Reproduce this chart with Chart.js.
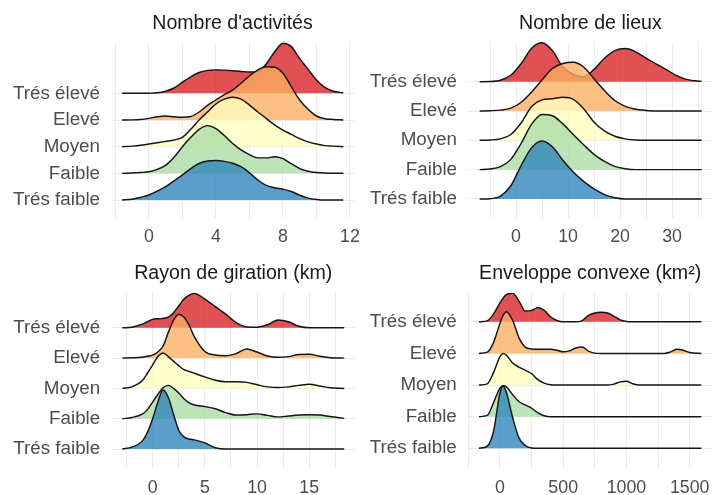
<!DOCTYPE html>
<html>
<head>
<meta charset="utf-8">
<script src="https://cdn.jsdelivr.net/npm/chart.js@4.4.1/dist/chart.umd.min.js"></script>
<style>
  html, body { margin: 0; padding: 0; background: #fff; overflow: hidden; width: 714px; height: 495px; }
  canvas { position: absolute; }
</style>
</head>
<body>
<canvas id="activites" style="left:0px;top:0px" width="370" height="250"></canvas>
<canvas id="lieux" style="left:357px;top:0px" width="357" height="250"></canvas>
<canvas id="rayon" style="left:0px;top:250px" width="370" height="245"></canvas>
<canvas id="enveloppe" style="left:357px;top:250px" width="361" height="245"></canvas>
<script>
'use strict';

// ridge order, bottom to top
const categories = ['Trés faible', 'Faible', 'Moyen', 'Elevé', 'Trés élevé'];

// Nombre d'activités (heights in ridge spacings)
const actX = [-1.6, -1, -0.5, 0, 0.5, 1, 1.5, 2, 2.5, 3, 3.5, 4, 4.5, 5, 5.5, 6, 6.5, 7, 7.5, 8, 8.5, 9, 9.5, 10, 10.5, 11, 11.6];
const actDensity = [
  [0, 0.03, 0.1, 0.19, 0.33, 0.5, 0.72, 0.94, 1.18, 1.37, 1.46, 1.48, 1.45, 1.38, 1.25, 1.02, 0.75, 0.55, 0.46, 0.41, 0.32, 0.18, 0.07, 0.02, 0, 0, 0],
  [0, 0.01, 0.03, 0.06, 0.15, 0.3, 0.6, 1.0, 1.35, 1.65, 1.79, 1.68, 1.42, 1.12, 0.88, 0.7, 0.58, 0.58, 0.62, 0.55, 0.36, 0.18, 0.08, 0.03, 0.01, 0, 0],
  [0, 0.02, 0.05, 0.1, 0.15, 0.2, 0.25, 0.35, 0.65, 1.0, 1.3, 1.6, 1.78, 1.85, 1.78, 1.56, 1.3, 1.06, 0.82, 0.62, 0.46, 0.3, 0.18, 0.1, 0.04, 0.02, 0],
  [0, 0.005, 0.02, 0.06, 0.12, 0.15, 0.12, 0.1, 0.13, 0.3, 0.55, 0.75, 0.95, 1.12, 1.38, 1.65, 1.88, 2.0, 1.98, 1.75, 1.25, 0.75, 0.4, 0.15, 0.05, 0.02, 0],
  [0, 0, 0, 0.005, 0.02, 0.08, 0.2, 0.42, 0.62, 0.78, 0.86, 0.88, 0.87, 0.85, 0.82, 0.8, 0.82, 1.1, 1.55, 1.88, 1.75, 1.3, 0.9, 0.5, 0.22, 0.08, 0.02]
];
const actGrid = [-2, 0, 2, 4, 6, 8, 10, 12];
const actTicks = [0, 4, 8, 12];

// Nombre de lieux
const lieuxX = [-7, -5, -3, -1, 1, 3, 5, 7, 9, 11, 13, 15, 17, 19, 21, 23, 25, 27, 29, 31, 33, 35.7];
const lieuxDensity = [
  [0, 0.01, 0.1, 0.45, 1.15, 1.75, 1.98, 1.78, 1.32, 0.92, 0.6, 0.34, 0.15, 0.04, 0, 0, 0, 0, 0, 0, 0, 0],
  [0, 0.02, 0.1, 0.35, 0.9, 1.55, 1.88, 1.84, 1.56, 1.2, 0.85, 0.52, 0.28, 0.11, 0.03, 0, 0, 0, 0, 0, 0, 0],
  [0, 0.01, 0.05, 0.2, 0.6, 1.15, 1.38, 1.42, 1.47, 1.4, 1.08, 0.62, 0.32, 0.14, 0.05, 0.01, 0, 0, 0, 0, 0, 0],
  [0, 0.01, 0.03, 0.1, 0.3, 0.65, 1.06, 1.45, 1.62, 1.66, 1.5, 1.1, 0.7, 0.36, 0.16, 0.06, 0.02, 0, 0, 0, 0, 0],
  [0, 0.005, 0.05, 0.22, 0.62, 1.14, 1.33, 1.06, 0.5, 0.25, 0.17, 0.42, 0.8, 1.06, 1.13, 1.02, 0.8, 0.6, 0.4, 0.2, 0.07, 0.01]
];
const lieuxGrid = [-5, 0, 5, 10, 15, 20, 25, 30, 35];
const lieuxTicks = [0, 10, 20, 30];

// Rayon de giration (km)
const rayonX = [-2.9, -2, -1, -0.5, 0, 0.5, 1, 1.5, 2, 2.5, 3, 3.5, 4, 5, 6, 7, 8, 9, 10, 11, 12, 13, 14, 15, 16, 17, 18.35];
const rayonDensity = [
  [0, 0.06, 0.26, 0.55, 1.0, 1.55, 1.95, 1.7, 1.15, 0.62, 0.4, 0.33, 0.3, 0.2, 0.04, 0, 0, 0, 0, 0, 0, 0, 0, 0, 0, 0, 0],
  [0, 0.04, 0.15, 0.3, 0.55, 0.8, 1.02, 1.1, 1.0, 0.85, 0.66, 0.52, 0.45, 0.4, 0.33, 0.2, 0.12, 0.13, 0.16, 0.11, 0.06, 0.09, 0.12, 0.13, 0.12, 0.07, 0.01],
  [0, 0.05, 0.25, 0.5, 0.78, 1.05, 1.17, 1.05, 0.9, 0.75, 0.62, 0.56, 0.5, 0.38, 0.27, 0.22, 0.22, 0.2, 0.12, 0.05, 0.03, 0.05, 0.1, 0.14, 0.08, 0.02, 0],
  [0, 0.01, 0.03, 0.06, 0.1, 0.2, 0.4, 0.85, 1.25, 1.45, 1.35, 1.08, 0.7, 0.22, 0.1, 0.08, 0.15, 0.3, 0.2, 0.07, 0.03, 0.05, 0.12, 0.13, 0.06, 0.01, 0],
  [0, 0.02, 0.12, 0.2, 0.28, 0.3, 0.31, 0.35, 0.5, 0.72, 0.95, 1.08, 1.13, 0.95, 0.7, 0.45, 0.17, 0.03, 0.02, 0.1, 0.26, 0.2, 0.05, 0, 0, 0, 0]
];
const rayonGrid = [-2.5, 0, 2.5, 5, 7.5, 10, 12.5, 15, 17.5];
const rayonTicks = [0, 5, 10, 15];

// Enveloppe convexe (km²)
const envX = [-166, -100, -50, 0, 25, 50, 100, 150, 200, 250, 300, 350, 400, 450, 500, 550, 600, 650, 700, 750, 800, 850, 900, 950, 1000, 1050, 1100, 1200, 1300, 1350, 1400, 1450, 1500, 1592];
const envDensity = [
  [0, 0.07, 0.55, 1.75, 1.98, 1.78, 0.98, 0.33, 0.09, 0.01, 0, 0, 0, 0, 0, 0, 0, 0, 0, 0, 0, 0, 0, 0, 0, 0, 0, 0, 0, 0, 0, 0, 0, 0],
  [0, 0.04, 0.45, 0.9, 0.98, 0.95, 0.7, 0.48, 0.37, 0.27, 0.12, 0.03, 0, 0, 0, 0, 0, 0, 0, 0, 0, 0, 0, 0, 0, 0, 0, 0, 0, 0, 0, 0, 0, 0],
  [0, 0.04, 0.4, 0.9, 1.0, 0.95, 0.7, 0.57, 0.47, 0.36, 0.17, 0.06, 0.01, 0, 0, 0, 0, 0, 0, 0, 0, 0, 0.03, 0.1, 0.12, 0.04, 0, 0, 0, 0, 0, 0, 0, 0],
  [0, 0.04, 0.35, 0.95, 1.2, 1.32, 1.05, 0.5, 0.2, 0.14, 0.13, 0.13, 0.13, 0.1, 0.05, 0.08, 0.17, 0.2, 0.07, 0.01, 0, 0, 0, 0, 0, 0, 0, 0, 0, 0.05, 0.13, 0.1, 0.03, 0],
  [0, 0.03, 0.25, 0.6, 0.75, 0.86, 0.9, 0.66, 0.34, 0.36, 0.45, 0.36, 0.16, 0.04, 0, 0, 0, 0.04, 0.2, 0.28, 0.3, 0.28, 0.18, 0.06, 0.01, 0, 0, 0, 0, 0, 0, 0, 0, 0]
];
const envGrid = [-250, 0, 250, 500, 750, 1000, 1250, 1500];
const envTicks = [0, 500, 1000, 1500];

const fillColors = [
  'rgba(43, 131, 186, 0.78)',
  'rgba(171, 221, 164, 0.78)',
  'rgba(255, 255, 191, 0.78)',
  'rgba(253, 174, 97, 0.78)',
  'rgba(215, 25, 28, 0.76)'
];
const fontFamily = "'Liberation Sans', Arial, sans-serif";

function renderRidges(canvasId, title, xs, densities, grid, tickLabels, box) {
  const datasets = densities.map((h, i) => ({
    label: categories[i],
    data: xs.map((x, j) => ({ x: x, y: i + 1 + h[j] })),
    fill: { value: i + 1 },
    backgroundColor: fillColors[i],
    borderColor: '#141414',
    borderWidth: 1.45,
    pointRadius: 0,
    cubicInterpolationMode: 'monotone'
  }));
  return new Chart(document.getElementById(canvasId), {
    type: 'line',
    data: { datasets: datasets },
    options: {
      responsive: false,
      animation: false,
      devicePixelRatio: 1,
      layout: { padding: { left: 0, right: box.padRight, top: 0, bottom: box.padBottom } },
      plugins: {
        legend: { display: false },
        tooltip: { enabled: false },
        title: {
          display: true,
          text: title,
          fullSize: false,
          color: '#1a1a1a',
          font: { family: fontFamily, size: 19.6, weight: 'normal' },
          padding: { top: box.titleTop, bottom: box.titleBottom }
        }
      },
      scales: {
        x: {
          type: 'linear',
          min: box.xMin,
          max: box.xMax,
          afterBuildTicks: s => { s.ticks = grid.map(v => ({ value: v })); },
          afterFit: s => { s.height = box.xH; },
          grid: { color: '#ececec', lineWidth: 1, drawTicks: false },
          border: { display: false },
          ticks: {
            padding: 8,
            autoSkip: false,
            maxRotation: 0,
            color: '#4d4d4d',
            font: { family: fontFamily, size: 17.8 },
            callback: v => tickLabels.includes(v) ? String(v) : ''
          }
        },
        y: {
          type: 'linear',
          min: box.yMin,
          max: box.yMax,
          afterBuildTicks: s => { s.ticks = categories.map((c, i) => ({ value: i + 1 })); },
          afterFit: s => { s.width = box.yW; },
          grid: { color: '#ececec', lineWidth: 1, drawTicks: false },
          border: { display: false },
          ticks: {
            padding: 11,
            autoSkip: false,
            color: '#4d4d4d',
            font: { family: fontFamily, size: 18.8 },
            callback: v => categories[v - 1]
          }
        }
      }
    }
  });
}

renderRidges('activites', "Nombre d'activités", actX, actDensity, actGrid, actTicks,
  { xMin: -2.26, xMax: 12.24, yMin: 0.326, yMax: 6.92, yW: 111, xH: 30, padRight: 16, padBottom: 2, titleTop: 12.1, titleBottom: 6.5 });
renderRidges('lieux', 'Nombre de lieux', lieuxX, lieuxDensity, lieuxGrid, lieuxTicks,
  { xMin: -9.24, xMax: 37.84, yMin: 0.35, yMax: 6.35, yW: 111, xH: 30, padRight: 1.2, padBottom: 2, titleTop: 12.1, titleBottom: 6.5 });
renderRidges('rayon', 'Rayon de giration (km)', rayonX, rayonDensity, rayonGrid, rayonTicks,
  { xMin: -3.97, xMax: 19.41, yMin: 0.34, yMax: 6.155, yW: 111.2, xH: 26, padRight: 14.7, padBottom: 0, titleTop: 12.3, titleBottom: 7 });
renderRidges('enveloppe', 'Enveloppe convexe (km²)', envX, envDensity, envGrid, envTicks,
  { xMin: -254, xMax: 1680, yMin: 0.346, yMax: 5.916, yW: 110.8, xH: 26, padRight: 5.2, padBottom: 0, titleTop: 12.3, titleBottom: 7 });
</script>
</body>
</html>
